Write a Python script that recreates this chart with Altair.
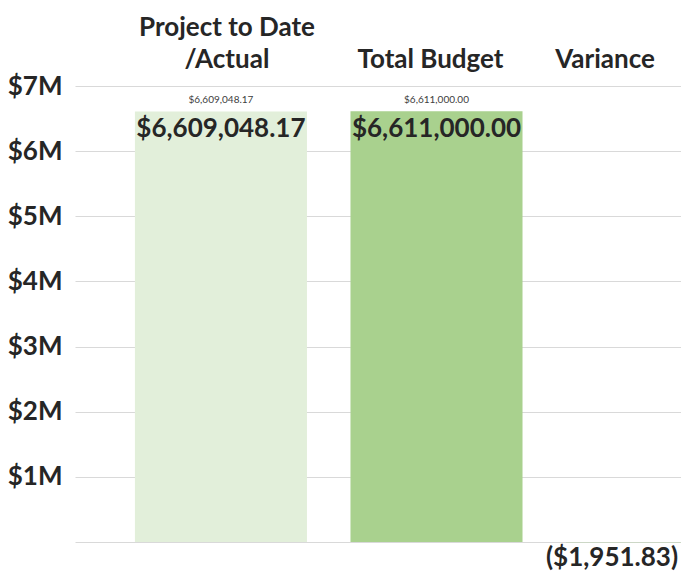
import altair as alt
import pandas as pd

categories = ["Project to Date /Actual", "Total Budget", "Variance"]
values = [6609048.17, 6611000.00, -1951.83]
bar_colors = ["#E2EFDA", "#A9D18E", "#A9D18E"]
y_ticks = [0, 1000000, 2000000, 3000000, 4000000, 5000000, 6000000, 7000000]

df = pd.DataFrame({"category": categories, "value": values})

FONT = "Lato"
TXT = "#262626"

x_enc = alt.X(
    "category:N",
    sort=categories,
    scale=alt.Scale(range=[0, 723], paddingInner=0.2019, paddingOuter=0.278),
    axis=alt.Axis(
        orient="top",
        title=None,
        domain=False,
        ticks=False,
        grid=False,
        labelAngle=0,
        labelFont=FONT,
        labelFontSize=26,
        labelFontWeight="bold",
        labelColor=TXT,
        labelBaseline="bottom",
        labelPadding=46,
        labelLineHeight=32,
        labelExpr="datum.label == 'Project to Date /Actual' ? ['Project to Date', '/Actual'] : ['', datum.label]",
        labelOffset={
            "condition": [
                {"test": "datum.value == 'Variance'", "value": -47},
                {"test": "datum.value == 'Total Budget'", "value": -6},
            ],
            "value": 6,
        },
        labelOverlap=False,
    ),
)

y_scale = alt.Scale(domain=[0, 7000000], nice=False, zero=True)

y_enc = alt.Y(
    "value:Q",
    scale=y_scale,
    axis=alt.Axis(
        title=None,
        values=y_ticks,
        domain=False,
        ticks=False,
        grid=True,
        gridColor="#D9D9D9",
        gridWidth=1,
        labelFont=FONT,
        labelFontSize=26,
        labelFontWeight="bold",
        labelColor=TXT,
        labelPadding=13,
        labelExpr="datum.value == 0 ? '' : '$' + (datum.value / 1000000) + 'M'",
    ),
)

base = alt.Chart(df).transform_calculate(
    label="datum.value < 0 ? '(' + format(-datum.value, '$,.2f') + ')' : format(datum.value, '$,.2f')"
)

bars = base.mark_bar().encode(
    x=x_enc,
    y=y_enc,
    color=alt.Color(
        "category:N",
        scale=alt.Scale(domain=categories, range=bar_colors),
        legend=None,
    ),
)

big_labels = base.transform_filter("datum.value > 0").mark_text(
    font=FONT, fontSize=26, fontWeight="bold", color=TXT,
    baseline="alphabetic", align="center", dy=26,
).encode(x=alt.X("category:N", sort=categories), y=alt.Y("value:Q"), text="label:N")

small_labels = base.transform_filter("datum.value > 0").mark_text(
    font=FONT, fontSize=10, color="#404040",
    baseline="middle", align="center", dy=-11,
).encode(x=alt.X("category:N", sort=categories), y=alt.Y("value:Q"), text="label:N")

neg_labels = base.transform_filter("datum.value < 0").mark_text(
    font=FONT, fontSize=26, fontWeight="bold", color=TXT,
    baseline="alphabetic", align="right", dx=26, dy=24,
).encode(x=alt.X("category:N", sort=categories), y=alt.Y("value:Q"), text="label:N")

chart = (
    alt.layer(bars, big_labels, small_labels, neg_labels)
    .properties(
        width=606,
        height=456,
        autosize=alt.AutoSizeParams(type="none"),
        padding={"left": 75, "top": 86, "right": 0, "bottom": 29},
        background="white",
    )
    .configure_view(stroke=None)
)

chart.save("out.html", embed_options={"renderer": "svg", "actions": False})
